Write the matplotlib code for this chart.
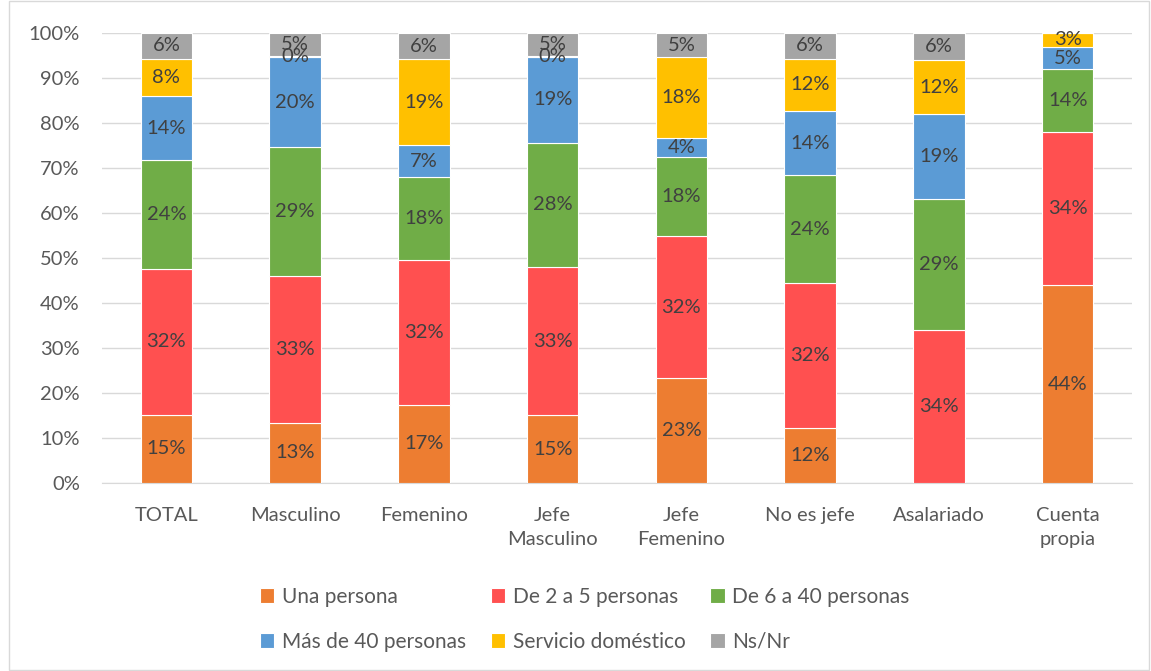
import numpy as np
import matplotlib
matplotlib.use("Agg")
import matplotlib.pyplot as plt
from matplotlib.patches import Rectangle

plt.rcParams['font.family'] = ['Lato', 'DejaVu Sans']

categories = ['TOTAL', 'Masculino', 'Femenino', 'Jefe\nMasculino', 'Jefe\nFemenino',
              'No es jefe', 'Asalariado', 'Cuenta\npropia']
series_names = ['Una persona', 'De 2 a 5 personas', 'De 6 a 40 personas',
                'Más de 40 personas', 'Servicio doméstico', 'Ns/Nr']

# percentages per category (nan = no value in the source)
una_persona = [15.2, 13.4, 17.4, 15.1, 23.3, 12.2, np.nan, 43.9]
de_2_a_5 = [32.3, 32.6, 32.1, 32.9, 31.6, 32.2, 34.0, 34.0]
de_6_a_40 = [24.2, 28.7, 18.4, 27.6, 17.5, 24.0, 29.1, 14.0]
mas_de_40 = [14.3, 19.9, 7.2, 19.1, 4.3, 14.3, 18.9, 5.0]
servicio_domestico = [8.3, 0.2, 19.1, 0.2, 17.9, 11.6, 12.0, 3.1]
ns_nr = [5.7, 5.2, 5.8, 5.1, 5.4, 5.7, 6.0, np.nan]

colors = ['#ED7D31', '#FF5050', '#70AD47', '#5B9BD5', '#FFC000', '#A5A5A5']

data = [una_persona, de_2_a_5, de_6_a_40, mas_de_40, servicio_domestico, ns_nr]

fig = plt.figure(figsize=(11.51, 6.71), dpi=100)
ax = fig.add_axes([0.0886, 0.2802, 0.8949, 0.6706])

x = np.arange(len(categories))
bottom = np.zeros(len(categories))
handles = []
for name, vals, col in zip(series_names, data, colors):
    v = np.array(vals, dtype=float)
    h = np.nan_to_num(v)
    bars = ax.bar(x, h, 0.4, bottom=bottom, color=col, edgecolor='white', linewidth=0.8,
                  label=name, zorder=3)
    handles.append(bars)
    for xi, val, b in zip(x, v, bottom):
        if not np.isnan(val):
            ax.text(xi, b + val / 2, f'{val:.0f}%', ha='center', va='center',
                    fontsize=14.5, color='#404040', zorder=4)
    bottom += h

ax.set_xlim(-0.5, len(categories) - 0.5)
ax.set_ylim(0, 100)
ax.set_yticks(np.arange(0, 101, 10))
ax.set_yticklabels([f'{t}%' for t in range(0, 101, 10)])
ax.set_xticks(x)
ax.set_xticklabels(categories, linespacing=1.55)
ax.tick_params(axis='both', length=0, labelsize=14.5, colors='#595959')
ax.tick_params(axis='x', pad=17)
ax.tick_params(axis='y', pad=16)
ax.grid(axis='y', color='#D9D9D9', linewidth=1, zorder=0)
for s in ['left', 'right', 'top']:
    ax.spines[s].set_visible(False)
ax.spines['bottom'].set_color('#D9D9D9')

# legend fills row by row like the original
order = [0, 3, 1, 4, 2, 5]
fig.legend([handles[i] for i in order], [series_names[i] for i in order],
           loc='center', bbox_to_anchor=(0.508, 0.077), ncol=3, frameon=False,
           fontsize=15, labelcolor='#595959', handlelength=0.7, handleheight=0.7,
           handletextpad=0.35, columnspacing=1.2, labelspacing=1.2)

fig.patches.append(Rectangle((0.008, 0.002), 0.99, 0.996, transform=fig.transFigure,
                             fill=False, edgecolor='#D9D9D9', linewidth=1))

fig.savefig('out.png', dpi=100)
